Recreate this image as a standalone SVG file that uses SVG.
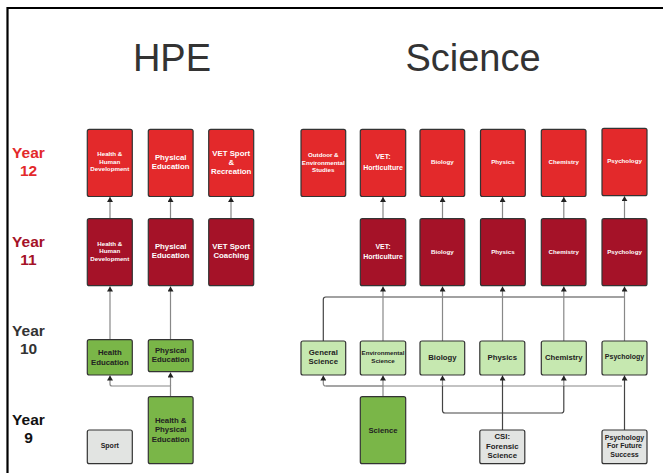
<svg xmlns="http://www.w3.org/2000/svg" width="663" height="473" viewBox="0 0 663 473">
<style>
.bg{fill:#ffffff}
.title{font-family:"Liberation Sans",Arial,sans-serif;font-size:38px;fill:#333333;text-anchor:middle}
.yr{font-family:"Liberation Sans",Arial,sans-serif;font-size:15.5px;font-weight:bold;text-anchor:middle}
.box{stroke:#333333;stroke-width:1.2}
.r12{fill:#e3292b}
.r11{fill:#a51228}
.g{fill:#7ab648}
.lg{fill:#c6e8b0}
.gr{fill:#e2e4e2}
.t{font-family:"Liberation Sans",Arial,sans-serif;font-weight:bold;text-anchor:middle}
.w{fill:#ffffff}
.d{fill:#222222}
.c{fill:none;stroke:#888888;stroke-width:1.2}
.ck{fill:none;stroke:#444444;stroke-width:1.2}
</style>
<defs>
<marker id="ah" markerUnits="userSpaceOnUse" markerWidth="6" markerHeight="6" refX="5" refY="3" orient="auto">
<path d="M0,0 L5,3 L0,6 z" fill="#222222"/>
</marker>
</defs>
<rect class="bg" x="0" y="0" width="663" height="473"/>
<path d="M7.5,474 V8 H664" fill="none" stroke="#000000" stroke-width="2.2"/>

<text class="title" x="172" y="71">HPE</text>
<text class="title" x="473" y="71">Science</text>

<g id="year-labels">
<text class="yr" x="28.5" y="157.5" fill="#e3292b">Year<tspan x="28.5" y="175.5">12</tspan></text>
<text class="yr" x="28.5" y="246.7" fill="#a51228">Year<tspan x="28.5" y="264.5">11</tspan></text>
<text class="yr" x="28.5" y="335.7" fill="#333333">Year<tspan x="28.5" y="354">10</tspan></text>
<text class="yr" x="28.5" y="424.5" fill="#111111">Year<tspan x="28.5" y="443">9</tspan></text>
</g>

<g id="connectors">
<!-- HPE 11 -> 12 -->
<path class="c" d="M110,219 V197" marker-end="url(#ah)"/>
<path class="c" d="M170.5,219 V197" marker-end="url(#ah)"/>
<path class="c" d="M231,219 V197" marker-end="url(#ah)"/>
<!-- HPE 10 -> 11 -->
<path class="c" d="M110,340 V286.5" marker-end="url(#ah)"/>
<path class="c" d="M170.5,340 V286.5" marker-end="url(#ah)"/>
<!-- HPE 9 -> 10 -->
<path class="c" d="M170.5,397 V386 H112 Q110,386 110,384 V375.5" marker-end="url(#ah)"/>
<path class="c" d="M170.5,386 V372.5" marker-end="url(#ah)"/>
<!-- Science 11 -> 12 -->
<path class="c" d="M383,219 V197" marker-end="url(#ah)"/>
<path class="c" d="M442.5,219 V197" marker-end="url(#ah)"/>
<path class="c" d="M502.5,219 V197" marker-end="url(#ah)"/>
<path class="c" d="M563.8,219 V197" marker-end="url(#ah)"/>
<path class="c" d="M624.5,219 V196.2" marker-end="url(#ah)"/>
<!-- Science 10 -> 11 -->
<path class="ck" d="M323.3,341 V299.5 Q323.3,297 325.8,297 H624.5"/>
<path class="c" d="M383,341 V286.5" marker-end="url(#ah)"/>
<path class="c" d="M442.5,341 V286.5" marker-end="url(#ah)"/>
<path class="c" d="M502.5,341 V286.5" marker-end="url(#ah)"/>
<path class="c" d="M563.8,341 V286.5" marker-end="url(#ah)"/>
<path class="c" d="M624.5,341 V286.5" marker-end="url(#ah)"/>
<!-- Science 9 -> 10 -->
<path class="c" d="M383,397 V375.5" marker-end="url(#ah)"/>
<path class="c" d="M325.8,386 H622" />
<path class="c" d="M383,386 H325.8 Q323.3,386 323.3,383.5 V375.5" marker-end="url(#ah)"/>
<path class="c" d="M442.5,386 V375.5" marker-end="url(#ah)"/>
<path class="c" d="M563.8,386 V375.5" marker-end="url(#ah)"/>
<path class="ck" d="M502.5,430 V413 H445 Q442.5,413 442.5,410.5 V386"/>
<path class="ck" d="M502.5,413 H561.3 Q563.8,413 563.8,410.5 V386"/>
<path class="ck" d="M502.5,413 V375.5" marker-end="url(#ah)"/>
<path class="ck" d="M624.5,430 V375.5" marker-end="url(#ah)"/>
</g>

<!-- Year 12 HPE -->
<g id="hhd12"><rect class="box r12" x="87.3" y="129.3" width="45" height="67.2" rx="2"/>
<text class="t w" font-size="6.2" x="109.8" y="156.2">Health &amp;<tspan x="109.8" y="163.7">Human</tspan><tspan x="109.8" y="171.2">Development</tspan></text></g>
<g id="pe12"><rect class="box r12" x="148.3" y="129.3" width="44.8" height="67.2" rx="2"/>
<text class="t w" font-size="7.8" x="170.7" y="159.5">Physical<tspan x="170.7" y="168.8">Education</tspan></text></g>
<g id="vet12"><rect class="box r12" x="208.7" y="129.3" width="45" height="67.2" rx="2"/>
<text class="t w" font-size="7.8" x="231.2" y="156">VET Sport<tspan x="231.2" y="165">&amp;</tspan><tspan x="231.2" y="174.4">Recreation</tspan></text></g>

<!-- Year 11 HPE -->
<g id="hhd11"><rect class="box r11" x="87.3" y="218.7" width="45" height="67" rx="2"/>
<text class="t w" font-size="6.2" x="109.8" y="245.5">Health &amp;<tspan x="109.8" y="253">Human</tspan><tspan x="109.8" y="260.5">Development</tspan></text></g>
<g id="pe11"><rect class="box r11" x="148.3" y="218.7" width="44.8" height="67" rx="2"/>
<text class="t w" font-size="7.8" x="170.7" y="248.8">Physical<tspan x="170.7" y="258.1">Education</tspan></text></g>
<g id="vet11"><rect class="box r11" x="208.7" y="218.7" width="45" height="67" rx="2"/>
<text class="t w" font-size="7.8" x="231.2" y="248.8">VET Sport<tspan x="231.2" y="258.1">Coaching</tspan></text></g>

<!-- Year 10 HPE -->
<g id="he10"><rect class="box g" x="87.3" y="339.7" width="45" height="35.3" rx="2"/>
<text class="t d" font-size="7.8" x="109.8" y="354.8">Health<tspan x="109.8" y="364.5">Education</tspan></text></g>
<g id="pe10"><rect class="box g" x="148.3" y="339.7" width="44.8" height="32" rx="2"/>
<text class="t d" font-size="7.8" x="170.7" y="352.5">Physical<tspan x="170.7" y="361.8">Education</tspan></text></g>

<!-- Year 9 HPE -->
<g id="hpe9"><rect class="box g" x="148.3" y="396.7" width="44.8" height="67" rx="2"/>
<text class="t d" font-size="7.8" x="170.7" y="423">Health &amp;<tspan x="170.7" y="432.4">Physical</tspan><tspan x="170.7" y="441.8">Education</tspan></text></g>
<g id="sport9"><rect class="box gr" x="87.3" y="430" width="45" height="33.7" rx="2"/>
<text class="t d" font-size="7" x="109.8" y="448.2">Sport</text></g>

<!-- Year 12 Science -->
<g id="ods12"><rect class="box r12" x="301" y="129.3" width="44.7" height="67.2" rx="2"/>
<text class="t w" font-size="6.2" x="323.3" y="156.5">Outdoor &amp;<tspan x="323.3" y="164.5">Environmental</tspan><tspan x="323.3" y="172">Studies</tspan></text></g>
<g id="hort12"><rect class="box r12" x="360.3" y="129.3" width="45.4" height="67.2" rx="2"/>
<text class="t w" font-size="7" x="383" y="159">VET:<tspan x="383" y="169.5">Horticulture</tspan></text></g>
<g id="bio12"><rect class="box r12" x="420" y="129.3" width="44.7" height="67.2" rx="2"/>
<text class="t w" font-size="6.2" x="442.4" y="164.2">Biology</text></g>
<g id="phy12"><rect class="box r12" x="480.5" y="129.3" width="44.8" height="67.2" rx="2"/>
<text class="t w" font-size="6.2" x="502.9" y="164.2">Physics</text></g>
<g id="chem12"><rect class="box r12" x="541.3" y="129.3" width="44.7" height="67.2" rx="2"/>
<text class="t w" font-size="6.2" x="563.7" y="164.2">Chemistry</text></g>
<g id="psy12"><rect class="box r12" x="602" y="128.3" width="45" height="67.4" rx="2"/>
<text class="t w" font-size="6.2" x="624.5" y="163.2">Psychology</text></g>

<!-- Year 11 Science -->
<g id="hort11"><rect class="box r11" x="360.3" y="218.7" width="45.4" height="67" rx="2"/>
<text class="t w" font-size="7" x="383" y="248.5">VET:<tspan x="383" y="258.8">Horticulture</tspan></text></g>
<g id="bio11"><rect class="box r11" x="420" y="218.7" width="44.7" height="67" rx="2"/>
<text class="t w" font-size="6.2" x="442.4" y="253.5">Biology</text></g>
<g id="phy11"><rect class="box r11" x="480.5" y="218.7" width="44.8" height="67" rx="2"/>
<text class="t w" font-size="6.2" x="502.9" y="253.5">Physics</text></g>
<g id="chem11"><rect class="box r11" x="541.3" y="218.7" width="44.7" height="67" rx="2"/>
<text class="t w" font-size="6.2" x="563.7" y="253.5">Chemistry</text></g>
<g id="psy11"><rect class="box r11" x="602" y="218.7" width="45" height="67" rx="2"/>
<text class="t w" font-size="6.2" x="624.5" y="253.5">Psychology</text></g>

<!-- Year 10 Science -->
<g id="gen10"><rect class="box lg" x="301" y="341" width="44.7" height="34" rx="2"/>
<text class="t d" font-size="7.8" x="323.3" y="355">General<tspan x="323.3" y="364.4">Science</tspan></text></g>
<g id="env10"><rect class="box lg" x="360.3" y="341" width="45.4" height="34" rx="2"/>
<text class="t d" font-size="6.2" x="383" y="355">Environmental<tspan x="383" y="363.2">Science</tspan></text></g>
<g id="bio10"><rect class="box lg" x="420" y="341" width="44.7" height="34" rx="2"/>
<text class="t d" font-size="7.7" x="442.4" y="360">Biology</text></g>
<g id="phy10"><rect class="box lg" x="479.8" y="341" width="45" height="34" rx="2"/>
<text class="t d" font-size="7.8" x="502.3" y="360">Physics</text></g>
<g id="chem10"><rect class="box lg" x="541.3" y="341" width="45" height="34" rx="2"/>
<text class="t d" font-size="7.7" x="563.8" y="360">Chemistry</text></g>
<g id="psy10"><rect class="box lg" x="602" y="341" width="45" height="34" rx="2"/>
<text class="t d" font-size="7" x="624.5" y="359.2">Psychology</text></g>

<!-- Year 9 Science -->
<g id="sci9"><rect class="box g" x="360.3" y="396.7" width="45.4" height="67" rx="2"/>
<text class="t d" font-size="7.7" x="383" y="433">Science</text></g>
<g id="csi9"><rect class="box gr" x="479.8" y="430" width="45" height="33.7" rx="2"/>
<text class="t d" font-size="7.8" x="502.3" y="439">CSI:<tspan x="502.3" y="448.7">Forensic</tspan><tspan x="502.3" y="458.4">Science</tspan></text></g>
<g id="pffs9"><rect class="box gr" x="602" y="430" width="45" height="33.7" rx="2"/>
<text class="t d" font-size="7" x="624.5" y="439.5">Psychology<tspan x="624.5" y="448.2">For Future</tspan><tspan x="624.5" y="456.6">Success</tspan></text></g>
</svg>
